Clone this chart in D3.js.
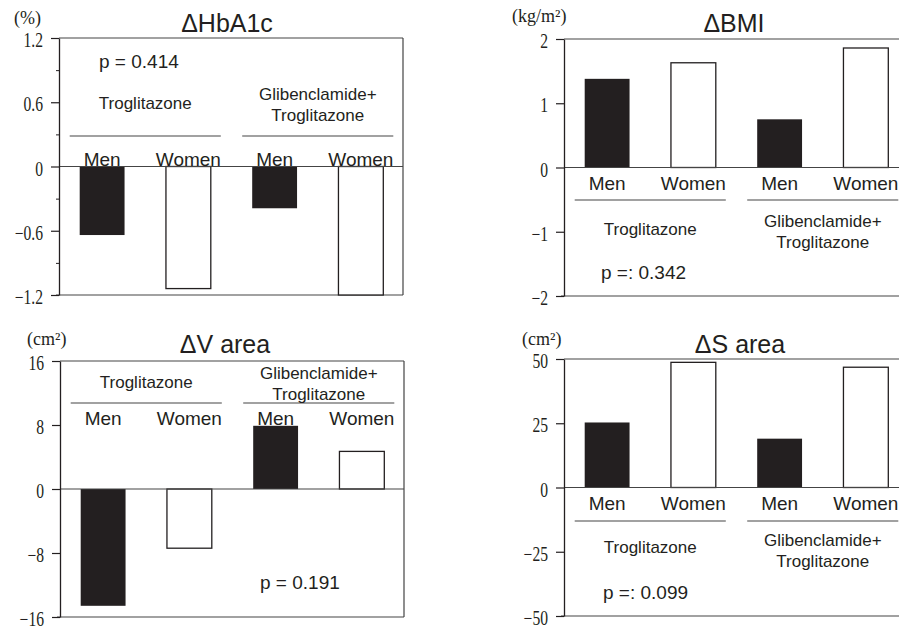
<!DOCTYPE html>
<html>
<head>
<meta charset="utf-8">
<script src="https://cdn.jsdelivr.net/npm/d3@7"></script>
<style>
  body { margin: 0; background: #fff; }
  svg { display: block; }
</style>
</head>
<body>
<svg id="chart" width="899" height="628"></svg>
<script>
// Categories: two treatment groups, each split by sex
const barKeys = ["trogMen", "trogWomen", "glibMen", "glibWomen"];
const sexLabels = ["Men", "Women", "Men", "Women"];
const barFills = ["black", "white", "black", "white"];
const groupNames = [["Troglitazone"], ["Glibenclamide+", "Troglitazone"]];

// Values
const hba1c = [-0.64, -1.14, -0.39, -1.2];
const bmi = [1.38, 1.63, 0.75, 1.86];
const vArea = [-14.6, -7.4, 7.9, 4.7];
const sArea = [25.3, 48.7, 19.0, 46.8];

// Tick values and labels
const hba1cTicks = [-1.2, -0.6, 0, 0.6, 1.2];
const hba1cMinor = [-0.9, -0.3, 0.3, 0.9];
const hba1cTickLabels = ["\u22121.2", "\u22120.6", "0", "0.6", "1.2"];
const bmiTicks = [-2, -1, 0, 1, 2];
const bmiTickLabels = ["\u22122", "\u22121", "0", "1", "2"];
const vTicks = [-16, -8, 0, 8, 16];
const vTickLabels = ["\u221216", "\u22128", "0", "8", "16"];
const sTicks = [-50, -25, 0, 25, 50];
const sTickLabels = ["\u221250", "\u221225", "0", "25", "50"];

const svg = d3.select("#chart");
const ink = "#231f20";
const sans = "'Liberation Sans', Arial, sans-serif";
const serif = "'Liberation Serif', 'Times New Roman', serif";

// Layout of the four panels
const panels = [
    { title: "\u0394HbA1c", unit: "(%)", values: hba1c, domain: [-1.2, 1.2],
      ticks: hba1cTicks, tickLabels: hba1cTickLabels, minor: hba1cMinor,
      left: 59, right: 403, top: 38, bottom: 295, rightBorder: true,
      titleX: 227, titleY: 32, unitX: 14, unitY: 24,
      catY: 166, ruleY: 136, singleY: 109, doubleY: 100,
      pText: "p = 0.414", pX: 99, pY: 68 },
    { title: "\u0394BMI", unit: "(kg/m\u00b2)", values: bmi, domain: [-2, 2],
      ticks: bmiTicks, tickLabels: bmiTickLabels, minor: [],
      left: 564, right: 910, top: 39, bottom: 296, rightBorder: false,
      titleX: 734, titleY: 32, unitX: 512, unitY: 22,
      catY: 190, ruleY: 200, singleY: 235, doubleY: 227,
      pText: "p =: 0.342", pX: 601, pY: 279 },
    { title: "\u0394V area", unit: "(cm\u00b2)", values: vArea, domain: [-16, 16],
      ticks: vTicks, tickLabels: vTickLabels, minor: [],
      left: 60, right: 404, top: 361, bottom: 617, rightBorder: true,
      titleX: 225, titleY: 353, unitX: 27, unitY: 345,
      catY: 425, ruleY: 403, singleY: 388, doubleY: 379,
      pText: "p = 0.191", pX: 260, pY: 589 },
    { title: "\u0394S area", unit: "(cm\u00b2)", values: sArea, domain: [-50, 50],
      ticks: sTicks, tickLabels: sTickLabels, minor: [],
      left: 564, right: 910, top: 359, bottom: 616, rightBorder: false,
      titleX: 740, titleY: 353, unitX: 522, unitY: 345,
      catY: 510, ruleY: 521, singleY: 553, doubleY: 546,
      pText: "p =: 0.099", pX: 603, pY: 599 }
];

panels.forEach(function (p) {
    var g = svg.append("g");

    var y = d3.scaleLinear().domain(p.domain).range([p.bottom, p.top]);
    var x = d3.scaleBand().domain(barKeys)
        .range([p.left, p.left + 345])
        .paddingInner(0.48).paddingOuter(0.24);

    // Frame lines
    g.append("line").attr("x1", p.left).attr("x2", p.right)
        .attr("y1", p.top).attr("y2", p.top)
        .attr("stroke", "#444").attr("stroke-width", 1.2);
    g.append("line").attr("x1", p.left - 3).attr("x2", p.right)
        .attr("y1", p.bottom).attr("y2", p.bottom)
        .attr("stroke", "#444").attr("stroke-width", 1.2);
    if (p.rightBorder) {
        g.append("line").attr("x1", p.right).attr("x2", p.right)
            .attr("y1", p.top).attr("y2", p.bottom)
            .attr("stroke", "#444").attr("stroke-width", 1.2);
    }

    // Bars
    g.selectAll(".bar").data(p.values).enter()
        .append("rect")
        .attr("class", "bar")
        .attr("x", function (d, i) { return x(barKeys[i]); })
        .attr("width", x.bandwidth())
        .attr("y", function (d) { return y(Math.max(0, d)); })
        .attr("height", function (d) { return Math.abs(y(d) - y(0)); })
        .attr("fill", function (d, i) { return barFills[i] === "black" ? ink : "#fff"; })
        .attr("stroke", ink)
        .attr("stroke-width", function (d, i) { return barFills[i] === "black" ? 0 : 1.3; });

    // Zero line
    g.append("line").attr("x1", p.left).attr("x2", p.right)
        .attr("y1", y(0)).attr("y2", y(0))
        .attr("stroke", "#444").attr("stroke-width", 1.2);

    // Minor ticks
    if (p.minor.length) {
        g.append("g")
            .attr("transform", "translate(" + p.left + ",0)")
            .call(d3.axisLeft(y).tickValues(p.minor).tickSize(3).tickSizeOuter(0).tickFormat(""))
            .call(function (a) { a.select(".domain").remove(); })
            .selectAll("line").attr("stroke", ink);
    }

    // Y axis
    var axis = g.append("g")
        .attr("transform", "translate(" + p.left + ",0)")
        .call(d3.axisLeft(y).tickValues(p.ticks).tickSize(8).tickSizeOuter(0)
            .tickFormat(function (d, i) { return p.tickLabels[i]; }));
    axis.select(".domain").attr("stroke", ink).attr("stroke-width", 1.3);
    axis.selectAll(".tick line").attr("stroke", ink).attr("stroke-width", 1.2);
    axis.selectAll(".tick text")
        .attr("x", 0).attr("dy", null)
        .attr("transform", "translate(-16,8.5) scale(0.78,1)")
        .style("font-family", serif)
        .style("font-size", "20px")
        .attr("fill", ink);

    // Title and unit
    g.append("text").attr("x", p.titleX).attr("y", p.titleY)
        .attr("text-anchor", "middle")
        .style("font-family", sans).style("font-size", "25px")
        .attr("fill", ink).text(p.title);
    g.append("text").attr("x", p.unitX).attr("y", p.unitY)
        .style("font-family", serif).style("font-size", "18px")
        .attr("fill", ink).text(p.unit);

    // Sex labels under / over each bar
    g.selectAll(".cat").data(sexLabels).enter()
        .append("text")
        .attr("x", function (d, i) { return x(barKeys[i]) + x.bandwidth() / 2; })
        .attr("y", p.catY)
        .attr("text-anchor", "middle")
        .style("font-family", sans).style("font-size", "19px")
        .attr("fill", ink)
        .text(function (d) { return d; });

    // Group rules and names
    groupNames.forEach(function (names, gi) {
        var x0 = x(barKeys[gi * 2]) - 10;
        var x1 = x(barKeys[gi * 2 + 1]) + x.bandwidth() + 10;
        g.append("line").attr("x1", x0).attr("x2", x1)
            .attr("y1", p.ruleY).attr("y2", p.ruleY)
            .attr("stroke", "#444").attr("stroke-width", 1.2);
        var t = g.append("text")
            .attr("text-anchor", "middle")
            .style("font-family", sans).style("font-size", "17px")
            .attr("fill", ink);
        names.forEach(function (n, ni) {
            t.append("tspan")
                .attr("x", (x0 + x1) / 2)
                .attr("y", (names.length === 1 ? p.singleY : p.doubleY) + ni * 21)
                .text(n);
        });
    });

    // p value
    g.append("text").attr("x", p.pX).attr("y", p.pY)
        .style("font-family", sans).style("font-size", "19px")
        .attr("fill", ink).text(p.pText);
});
</script>
</body>
</html>
